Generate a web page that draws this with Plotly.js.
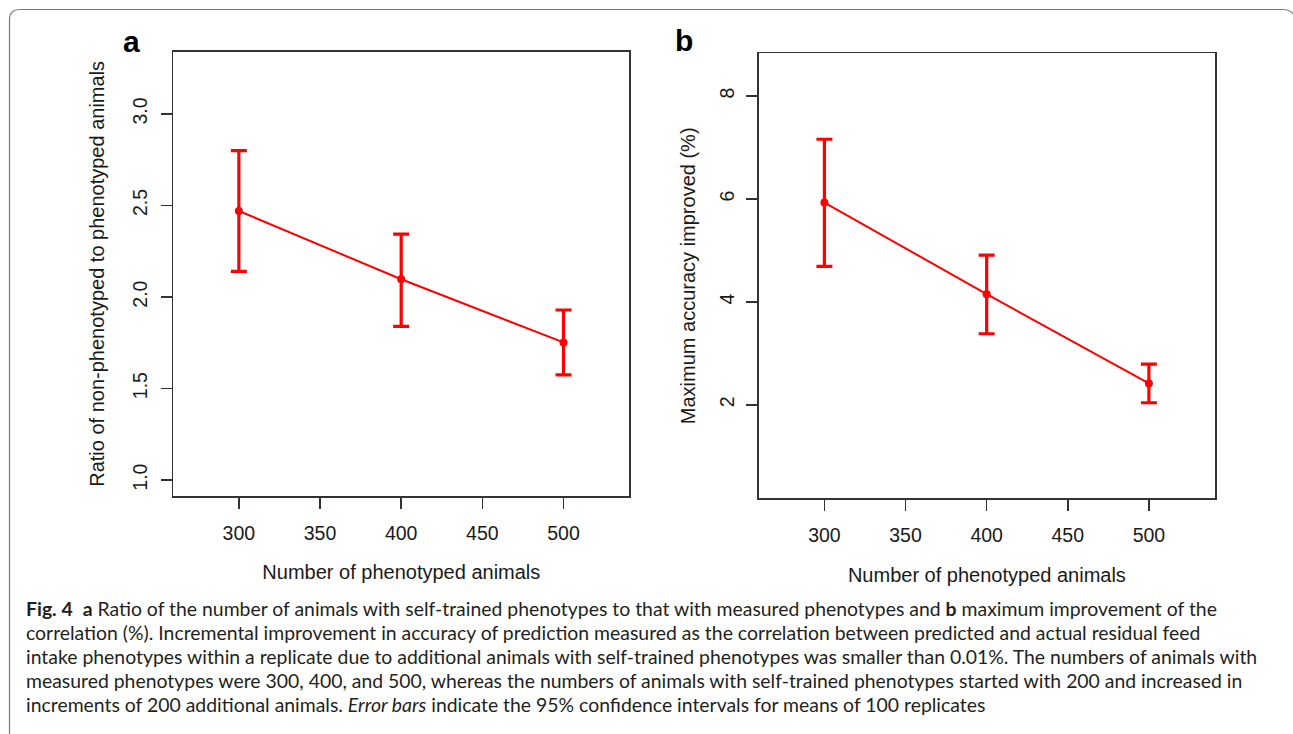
<!DOCTYPE html>
<html>
<head>
<meta charset="utf-8">
<script src="https://cdn.plot.ly/plotly-3.0.1.min.js"></script>
<style>
  html, body { margin: 0; padding: 0; background: #ffffff; }
  #chart { width: 1293px; height: 734px; }
</style>
</head>
<body>
<div id="chart"></div>
<script>
// ---- data ----
const phenotypedAnimals = [300, 400, 500];
const xTickVals = [300, 350, 400, 450, 500];

// panel a: ratio of non-phenotyped to phenotyped animals
const ratioMean  = [2.47, 2.097, 1.752];
const ratioUpper = [2.80, 2.344, 1.929];
const ratioLower = [2.14, 1.840, 1.575];
const ratioTicks = [1.0, 1.5, 2.0, 2.5, 3.0];

// panel b: maximum accuracy improved (%)
const accMean  = [5.93, 4.15, 2.415];
const accUpper = [7.16, 4.91, 2.79];
const accLower = [4.69, 3.38, 2.04];
const accTicks = [2, 4, 6, 8];

const captionLines = [
  "<b>Fig. 4</b>\u00a0\u00a0<b>a</b> Ratio of the number of animals with self-trained phenotypes to that with measured phenotypes and <b>b</b> maximum improvement of the",
  "correlation (%). Incremental improvement in accuracy of prediction measured as the correlation between predicted and actual residual feed",
  "intake phenotypes within a replicate due to additional animals with self-trained phenotypes was smaller than 0.01%. The numbers of animals with",
  "measured phenotypes were 300, 400, and 500, whereas the numbers of animals with self-trained phenotypes started with 200 and increased in",
  "increments of 200 additional animals. <i>Error bars</i> indicate the 95% confidence intervals for means of 100 replicates"
];

// ---- layout helpers ----
const W = 1293, H = 734;
const px = v => v / W;
const py = v => 1 - v / H;

const red = '#ff0000';
const frameColor = '#333333';
const chartFont = 'Liberation Sans, Arial, sans-serif';
const textColor = '#1a1a1a';

function series(y, up, lo, xa, ya) {
  return {
    type: 'scatter', mode: 'lines+markers',
    x: phenotypedAnimals, y: y, xaxis: xa, yaxis: ya,
    line: { color: red, width: 2 },
    marker: { color: red, size: 8 },
    error_y: {
      type: 'data', symmetric: false,
      array: y.map((v, i) => up[i] - v),
      arrayminus: y.map((v, i) => v - lo[i]),
      color: red, thickness: 3.2, width: 8
    },
    showlegend: false, hoverinfo: 'x+y'
  };
}

const axisCommon = {
  showline: true, mirror: true, linecolor: frameColor, linewidth: 1.5,
  showgrid: false, zeroline: false,
  ticks: 'outside', ticklen: 11, tickwidth: 1.5, tickcolor: frameColor,
  tickfont: { family: chartFont, size: 19.5, color: textColor },
  automargin: false
};

const layout = {
  width: W, height: H,
  margin: { l: 0, r: 0, t: 0, b: 0 },
  paper_bgcolor: '#ffffff', plot_bgcolor: '#ffffff',
  xaxis: Object.assign({}, axisCommon, {
    domain: [px(173.3), px(629.4)], range: [259.6, 540.6],
    tickvals: xTickVals, ticktext: xTickVals.map(String),
    ticklabelstandoff: 8,
    title: { text: 'Number of phenotyped animals', standoff: 22,
             font: { family: chartFont, size: 20, color: textColor } },
    anchor: 'y'
  }),
  yaxis: Object.assign({}, axisCommon, {
    domain: [py(496), py(51.7)], range: [0.913, 3.34],
    tickvals: ratioTicks, ticktext: ratioTicks.map(v => v.toFixed(1)),
    tickangle: -90, ticklabelstandoff: 6,
    title: { text: 'Ratio of non-phenotyped to phenotyped animals', standoff: 19,
             font: { family: chartFont, size: 20, color: textColor } },
    anchor: 'x'
  }),
  xaxis2: Object.assign({}, axisCommon, {
    domain: [px(758.7), px(1215.1)], range: [259.5, 540.8],
    tickvals: xTickVals, ticktext: xTickVals.map(String),
    ticklabelstandoff: 8,
    title: { text: 'Number of phenotyped animals', standoff: 23,
             font: { family: chartFont, size: 20, color: textColor } },
    anchor: 'y2'
  }),
  yaxis2: Object.assign({}, axisCommon, {
    domain: [py(498.3), py(53.3)], range: [0.183, 8.83],
    tickvals: accTicks, ticktext: accTicks.map(String),
    tickangle: -90, ticklabelstandoff: 4,
    title: { text: 'Maximum accuracy improved (%)', standoff: 15,
             font: { family: chartFont, size: 20, color: textColor } },
    anchor: 'x2'
  }),
  shapes: [
    { type: 'path', xref: 'paper', yref: 'paper',
      path: `M ${px(9.5)},${py(745)} L ${px(9.5)},${py(20)} Q ${px(9.5)},${py(9.5)} ${px(20)},${py(9.5)} L ${px(1282)},${py(9.5)} Q ${px(1290)},${py(9.5)} ${px(1293)},${py(14)}`,
      line: { color: '#7a7a7a', width: 1.2 } }
  ],
  annotations: [
    { text: '<b>a</b>', xref: 'paper', yref: 'paper', x: px(131), y: py(42),
      xanchor: 'center', yanchor: 'middle', showarrow: false,
      font: { family: chartFont, size: 30, color: '#000' } },
    { text: '<b>b</b>', xref: 'paper', yref: 'paper', x: px(684), y: py(40),
      xanchor: 'center', yanchor: 'middle', showarrow: false,
      font: { family: chartFont, size: 30, color: '#000' } }
  ].concat(captionLines.map((t, i) => ({
    text: t, xref: 'paper', yref: 'paper', x: px(24), y: py(608 + 24 * i),
    xanchor: 'left', yanchor: 'middle', showarrow: false, align: 'left',
    font: { family: 'Lato, "Open Sans", sans-serif', size: 19.4, color: '#231f20' }
  })))
};

const data = [
  series(ratioMean, ratioUpper, ratioLower, 'x', 'y'),
  series(accMean, accUpper, accLower, 'x2', 'y2')
];

Plotly.newPlot('chart', data, layout, { displayModeBar: false, staticPlot: true });
</script>
</body>
</html>
